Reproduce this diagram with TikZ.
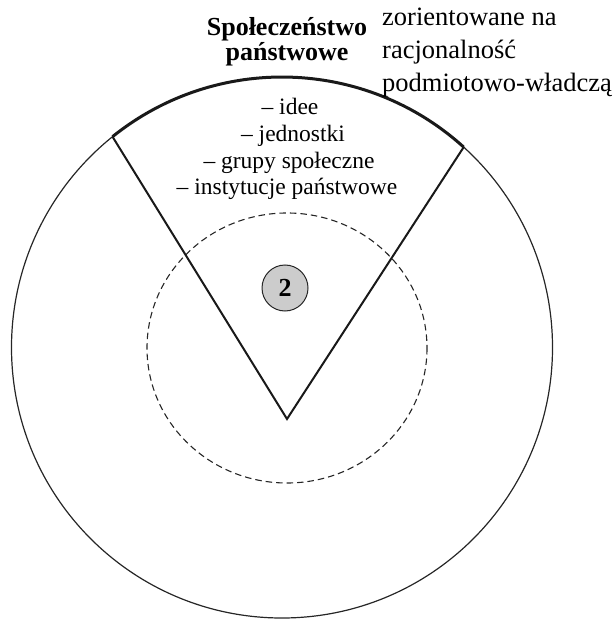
\documentclass[tikz,border=0pt]{standalone}
\usepackage{fontspec}
\setmainfont{Liberation Serif}
\usetikzlibrary{calc}
\begin{document}
\begin{tikzpicture}[x=1pt,y=-1pt,
  outer/.style={line width=1.2pt, draw=black!85},
  inner/.style={line width=1.1pt, draw=black!85, dash pattern=on 6.5pt off 4pt},
  wedge/.style={line width=2pt, draw=black!90, line join=miter},
  rim/.style={line width=3pt, draw=black!90},
  title/.style={anchor=base, inner sep=0pt, font=\bfseries\fontsize{26}{26}\selectfont},
  side/.style={anchor=base west, inner sep=0pt, font=\fontsize{26.5}{26.5}\selectfont},
  item/.style={anchor=base, inner sep=0pt, font=\fontsize{23.5}{23.5}\selectfont},
  badge/.style={circle, draw=black!85, fill=black!20, line width=1pt, minimum size=46pt, inner sep=0pt, font=\bfseries\fontsize{26}{26}\selectfont}]
\useasboundingbox (0,0) rectangle (615,620);
\coordinate (C) at (282,347.5);
\draw[outer] (C) circle[radius=270.5];
\draw[inner] (287,348) ellipse[x radius=140, y radius=135];
\coordinate (L) at ($(C)+(-128.8:270.5)$);
\coordinate (R) at ($(C)+(-47.8:270.5)$);
\coordinate (apex) at (287,419);
\draw[rim] (L) arc[start angle=-128.8, end angle=-47.8, radius=270.5];
\draw[wedge] (L) -- (apex) -- (R);
\node[badge] (two) at (285,288) {2};
\node[title] (t1) at (287,36) {Społeczeństwo};
\node[title] (t2) at (287,61) {państwowe};
\node[side] (s1) at (382,26) {zorientowane na};
\node[side] (s2) at (382,59) {racjonalność};
\node[side] (s3) at (382,92) {podmiotowo-władczą};
\node[item] (i1) at (290,115) {– idee};
\node[item] (i2) at (293,141.7) {– jednostki};
\node[item] (i3) at (289,168.3) {– grupy społeczne};
\node[item] (i4) at (287,195) {– instytucje państwowe};
\end{tikzpicture}
\end{document}
